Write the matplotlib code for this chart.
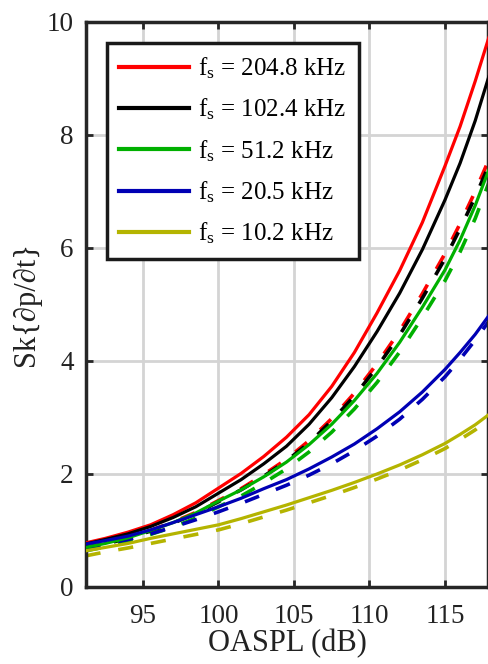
import matplotlib
matplotlib.use('Agg')
import matplotlib.pyplot as plt

plt.rcParams['font.family'] = ['Liberation Serif', 'DejaVu Serif']
plt.rcParams['mathtext.fontset'] = 'custom'
plt.rcParams['mathtext.rm'] = 'Liberation Serif'
plt.rcParams['mathtext.it'] = 'Liberation Serif:italic'

# OASPL sample points (dB)
oaspl = [91.2, 92.5, 94, 95.5, 97, 98.5, 100, 101.5, 103, 104.5,
         106, 107.5, 109, 110.5, 112, 113.5, 115, 116, 117, 117.9]

# skewness of dp/dt per sampling rate (solid)
sk_2048 = [0.78, 0.86, 0.97, 1.10, 1.28, 1.49, 1.75, 2.01, 2.31, 2.65,
           3.05, 3.55, 4.15, 4.85, 5.60, 6.45, 7.45, 8.15, 8.95, 9.72]
sk_1024 = [0.76, 0.84, 0.94, 1.07, 1.23, 1.42, 1.66, 1.90, 2.18, 2.49,
           2.88, 3.35, 3.90, 4.52, 5.20, 5.97, 6.85, 7.50, 8.25, 9.03]
sk_512 = [0.70, 0.77, 0.87, 1.00, 1.14, 1.31, 1.52, 1.72, 1.95, 2.21,
          2.52, 2.88, 3.30, 3.78, 4.33, 4.95, 5.61, 6.14, 6.75, 7.38]
sk_205 = [0.76, 0.82, 0.90, 1.01, 1.14, 1.28, 1.42, 1.57, 1.74, 1.90,
          2.09, 2.30, 2.53, 2.80, 3.10, 3.45, 3.85, 4.15, 4.47, 4.80]
sk_102 = [0.64, 0.70, 0.77, 0.86, 0.94, 1.02, 1.10, 1.21, 1.33, 1.45,
          1.58, 1.71, 1.85, 2.00, 2.16, 2.34, 2.54, 2.70, 2.87, 3.05]

# dashed counterparts
sk_2048_d = [0.70, 0.77, 0.87, 1.00, 1.15, 1.32, 1.53, 1.74, 1.99, 2.26,
             2.59, 2.98, 3.43, 3.95, 4.53, 5.19, 5.90, 6.43, 7.00, 7.56]
sk_1024_d = [0.69, 0.76, 0.86, 0.99, 1.13, 1.30, 1.51, 1.72, 1.96, 2.23,
             2.55, 2.94, 3.38, 3.89, 4.46, 5.11, 5.81, 6.34, 6.90, 7.46]
sk_512_d = [0.64, 0.71, 0.81, 0.93, 1.06, 1.22, 1.42, 1.61, 1.84, 2.09,
            2.39, 2.74, 3.15, 3.62, 4.16, 4.77, 5.42, 5.93, 6.52, 7.15]
sk_205_d = [0.70, 0.76, 0.84, 0.94, 1.06, 1.19, 1.33, 1.48, 1.64, 1.80,
            1.98, 2.18, 2.41, 2.67, 2.97, 3.32, 3.72, 4.03, 4.37, 4.70]
sk_102_d = [0.55, 0.62, 0.69, 0.77, 0.85, 0.93, 1.01, 1.12, 1.24, 1.36,
            1.49, 1.62, 1.76, 1.91, 2.07, 2.25, 2.45, 2.61, 2.78, 2.97]

labels = ['204.8', '102.4', '51.2', '20.5', '10.2']
colors = ['#ff0000', '#000000', '#00b000', '#0000b4', '#b4b400']

solid = [sk_2048, sk_1024, sk_512, sk_205, sk_102]
dashed = [sk_2048_d, sk_1024_d, sk_512_d, sk_205_d, sk_102_d]

fig = plt.figure(figsize=(4.89, 6.64), dpi=100)
ax = fig.add_axes([0.176, 0.116, 0.822, 0.851])

for i, (ys, c) in enumerate(zip(dashed, colors)):
    off = 1.2 if i == 1 else 0
    ax.plot(oaspl, ys, color=c, lw=2.6, ls=(off, (4.2, 5.0)), zorder=2)

handles = []
for ys, c, lab in zip(solid, colors, labels):
    h, = ax.plot(oaspl, ys, color=c, lw=2.3, zorder=3,
                 label=r'f$_{\rm s}$ = ' + lab + ' kHz')
    handles.append(h)

ax.set_xlim(91.23, 117.85)
ax.set_ylim(0, 10)
ax.set_xticks([95, 100, 105, 110, 115])
ax.set_yticks([0, 2, 4, 6, 8, 10])
ax.grid(True, color='#d4d4d4', lw=2)
ax.set_axisbelow(True)

for s in ax.spines.values():
    s.set_linewidth(2.5)
    s.set_color('#262626')
ax.tick_params(direction='in', length=5, width=2, colors='#262626',
               labelsize=19.5, top=True, right=True)
ax.tick_params(axis='x', pad=12)
ax.tick_params(axis='y', pad=9)
for t in ax.get_xticklabels() + ax.get_yticklabels():
    t.set_color('#222222')

ax.set_xlabel('OASPL (dB)', fontsize=22, color='#222222', labelpad=0)
ax.set_ylabel('Sk{\u2202p/\u2202t}', fontsize=22, color='#222222', labelpad=4)

leg = ax.legend(handles=handles, loc='upper left', bbox_to_anchor=(0.052, 0.963),
                borderaxespad=0, fontsize=18, handlelength=2.8, handletextpad=0.35,
                labelspacing=0.63, borderpad=0.5, fancybox=False, framealpha=1)
leg.get_frame().set_edgecolor('#1a1a1a')
leg.get_frame().set_linewidth(2.5)
for line in leg.get_lines():
    line.set_linewidth(3)

fig.savefig('out.png', dpi=100)
